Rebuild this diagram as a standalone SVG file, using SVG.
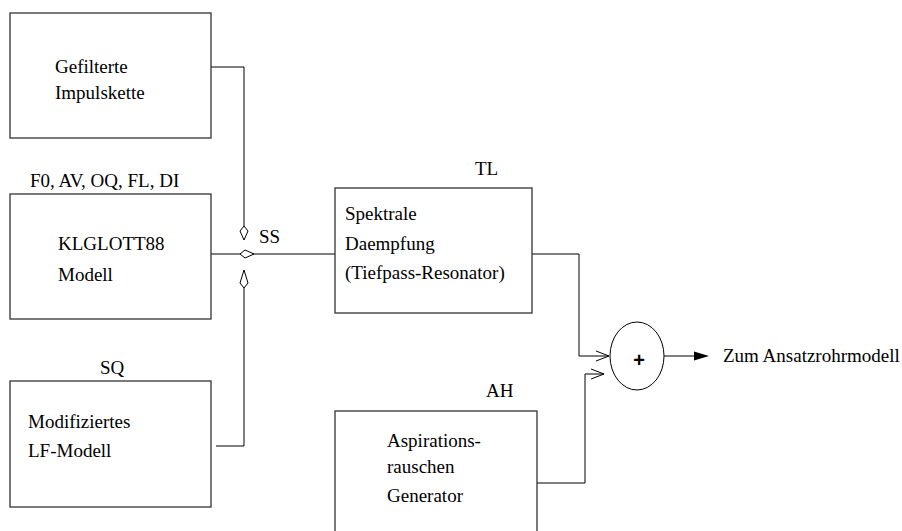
<svg xmlns="http://www.w3.org/2000/svg" width="902" height="531" viewBox="0 0 902 531">
<style>
.box{fill:none;stroke:#333;stroke-width:1.3}
.ln{fill:none;stroke:#000;stroke-width:1}
.kite{fill:#fff;stroke:#000;stroke-width:1}
.t{font-family:"Liberation Serif","Times New Roman",serif;font-size:19px;fill:#000}
.plus{font-family:"Liberation Sans",Arial,sans-serif;font-size:20px;font-weight:bold;fill:#000}
</style>
<rect width="902" height="531" fill="#fff"/>
<g id="connectors">
<polyline class="ln" points="211,67 244,67 244,226"/>
<polyline class="ln" points="211,254 335,254"/>
<polyline class="ln" points="216,446 244,446 244,288"/>
<polygon class="kite" points="244,240 248,231 244,226 240,231"/>
<polygon class="kite" points="254,254 245,250 240,254 245,258"/>
<polygon class="kite" points="244,270 248,283 244,288 240,283"/>
<polyline class="ln" points="532,254 579,254 579,356 609,356"/>
<polyline class="ln" points="596,351 609,356 596,361"/>
<polyline class="ln" points="537,483 585,483 585,374 604,374"/>
<polyline class="ln" points="591,369 604,374 591,379"/>
<line class="ln" x1="664" y1="356" x2="697" y2="356"/>
<polygon points="709,356 694,351.5 694,360.5" fill="#000"/>
</g>
<g id="impulskette">
<rect class="box" x="10" y="13" width="201" height="125"/>
<text class="t" x="55" y="73">Gefilterte</text>
<text class="t" x="55" y="99">Impulskette</text>
</g>
<g id="klglott">
<text class="t" x="30" y="187">F0, AV, OQ, FL, DI</text>
<rect class="box" x="10" y="194" width="201" height="125"/>
<text class="t" x="58" y="250">KLGLOTT88</text>
<text class="t" x="58" y="281">Modell</text>
</g>
<g id="lf">
<text class="t" x="100" y="374">SQ</text>
<rect class="box" x="10" y="381" width="201" height="126"/>
<text class="t" x="28" y="428">Modifiziertes</text>
<text class="t" x="28" y="457">LF-Modell</text>
</g>
<g id="ss">
<text class="t" x="259" y="243">SS</text>
</g>
<g id="tiefpass">
<text class="t" x="475" y="175">TL</text>
<rect class="box" x="335" y="188" width="197" height="125"/>
<text class="t" x="345" y="220">Spektrale</text>
<text class="t" x="345" y="250">Daempfung</text>
<text class="t" x="345" y="279">(Tiefpass-Resonator)</text>
</g>
<g id="aspiration">
<text class="t" x="486" y="397">AH</text>
<rect class="box" x="335" y="411" width="202" height="130"/>
<text class="t" x="387" y="447">Aspirations-</text>
<text class="t" x="387" y="473">rauschen</text>
<text class="t" x="387" y="502">Generator</text>
</g>
<g id="sum">
<ellipse cx="637" cy="356" rx="27" ry="34" fill="#fff" stroke="#000" stroke-width="1"/>
<text class="plus" x="639" y="367" text-anchor="middle">+</text>
</g>
<g id="output">
<text class="t" x="723" y="362">Zum Ansatzrohrmodell</text>
</g>
</svg>
